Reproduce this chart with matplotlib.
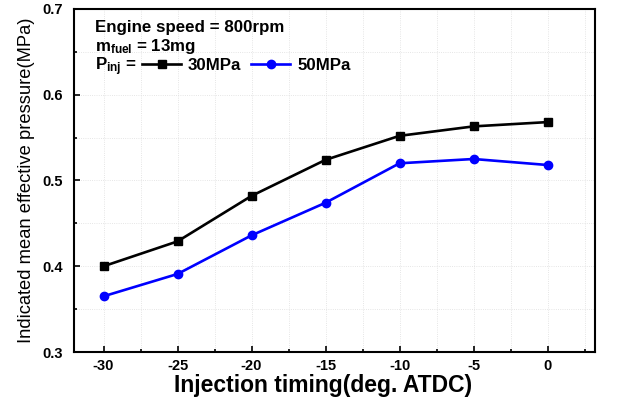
import matplotlib
matplotlib.use("Agg")
import matplotlib.pyplot as plt
from matplotlib.ticker import MultipleLocator

plt.rcParams['font.family'] = ['Liberation Sans', 'DejaVu Sans']
plt.rcParams['mathtext.fontset'] = 'custom'
plt.rcParams['mathtext.rm'] = 'Liberation Sans:bold'
plt.rcParams['mathtext.it'] = 'Liberation Sans:bold'
plt.rcParams['mathtext.bf'] = 'Liberation Sans:bold'
plt.rcParams['axes.unicode_minus'] = False

timing = [-30, -25, -20, -15, -10, -5, 0]
imep_30 = [0.400, 0.429, 0.482, 0.524, 0.552, 0.563, 0.568]
imep_50 = [0.365, 0.391, 0.436, 0.474, 0.520, 0.525, 0.518]
labels = ['30MPa', '50MPa']

fig = plt.figure(figsize=(6.21, 4.01), dpi=100)
ax = fig.add_axes([0.119, 0.122, 0.839, 0.856])

ax.plot(timing, imep_30, color='black', marker='s', markersize=6, lw=1.9, label=labels[0])
ax.plot(timing, imep_50, color='blue', marker='o', markersize=6, lw=1.9, label=labels[1])

ax.set_xlim(-32, 3.2)
ax.set_ylim(0.3, 0.7)
ax.xaxis.set_major_locator(MultipleLocator(5))
ax.xaxis.set_minor_locator(MultipleLocator(2.5))
ax.yaxis.set_major_locator(MultipleLocator(0.1))
ax.yaxis.set_minor_locator(MultipleLocator(0.05))
ax.tick_params(which='both', direction='in', width=1.2, top=False, right=False)
ax.tick_params(which='major', length=4, labelsize=10.5)
ax.tick_params(axis='x', which='major', pad=5)
ax.tick_params(axis='y', which='major', pad=8)
ax.tick_params(which='minor', length=2.5)
for lab in ax.get_xticklabels() + ax.get_yticklabels():
    lab.set_fontweight('bold')
for s in ax.spines.values():
    s.set_linewidth(1.5)
ax.grid(True, which='both', color='#dddddd', linestyle=':', linewidth=0.6)

ax.set_xlabel('Injection timing(deg. ATDC)', fontsize=16.5, fontweight='bold')
ax.xaxis.set_label_coords(0.479, -0.065, transform=ax.transAxes)
ax.xaxis.label.set_va('top')
ax.set_ylabel('Indicated mean effective pressure(MPa)', fontsize=13.2, labelpad=5)

fs = 12.2
ax.text(0.04, 0.945, 'Engine speed = 800rpm', transform=ax.transAxes, fontsize=fs,
        fontweight='bold', va='center')
ax.text(0.04, 0.89, r'$\mathrm{m_{fuel}}$ = 13mg', transform=ax.transAxes, fontsize=fs,
        fontweight='bold', va='center')
ax.text(0.04, 0.83, r'$\mathrm{P_{inj}}$ =', transform=ax.transAxes, fontsize=fs,
        fontweight='bold', va='center')
leg = ax.legend(loc='center left', bbox_to_anchor=(0.131, 0.835), ncol=2, frameon=False,
                handlelength=2.3, handletextpad=0.4, columnspacing=0.6, borderpad=0,
                borderaxespad=0, prop={'weight': 'bold', 'size': fs})

fig.savefig('out.png', dpi=100)
